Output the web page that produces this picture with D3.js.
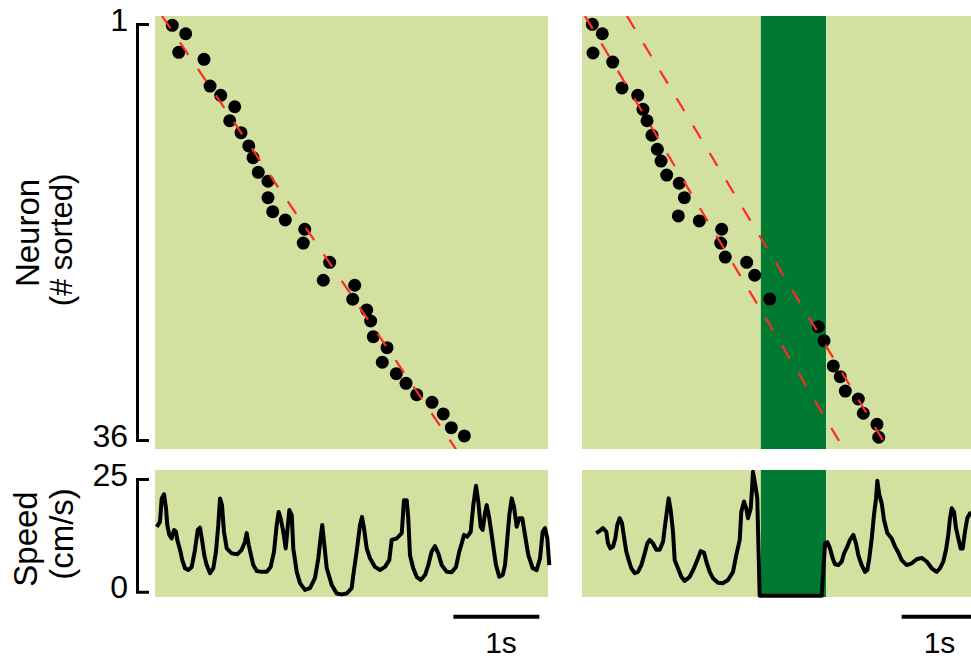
<!DOCTYPE html>
<html><head><meta charset="utf-8">
<script src="https://cdn.jsdelivr.net/npm/d3@7"></script>
<style>body{margin:0;background:#fff}svg{display:block}text{font-family:"Liberation Sans",Arial,sans-serif;fill:#000}</style>
</head><body><svg id="c" width="971" height="660"></svg>
<script>
// ---------- data ----------
const neuronTicks = [1, 36];
const speedTicks = [0, 25];
// peak times (s) and sorted neuron rank, left (control) panel
const leftTimes = [0.201,0.357,0.276,0.570,0.640,0.764,0.927,0.869,1.000,1.090,1.140,1.201,1.314,1.314,1.369,1.515,1.741,1.724,2.031,1.957,2.322,2.299,2.462,2.508,2.538,2.698,2.643,2.806,2.919,3.043,3.221,3.352,3.445,3.597];
const leftNeurons = [1.11,1.82,3.38,3.97,6.22,7.00,7.96,9.14,10.14,11.26,12.25,13.48,14.23,15.61,16.79,17.49,18.27,19.43,21.05,22.56,22.98,24.16,25.06,25.99,27.31,28.23,29.46,30.42,31.23,32.19,32.83,33.81,34.96,35.66];
// right (light-on) panel
const rightTimes = [0.120,0.236,0.128,0.357,0.465,0.648,0.709,0.756,0.814,0.876,0.919,0.985,1.131,1.190,1.120,1.364,1.624,1.613,1.666,1.915,2.008,2.183,2.748,2.814,2.922,3.003,3.062,3.213,3.271,3.430,3.450];
const rightNeurons = [1.03,1.82,3.44,4.20,6.38,7.00,8.18,9.14,10.36,11.54,12.53,13.71,14.40,15.61,17.15,17.57,18.27,19.43,20.61,21.05,22.14,24.14,26.47,27.64,29.77,30.67,31.88,32.55,33.75,34.68,35.77];
// fitted sequence lines [t0, t1] / [n0, n1]
const leftFitT = [0.081, 3.500];
const leftFitN = [0.327, 36.78];
const rightFitAT = [0.035, 3.047];
const rightFitAN = [0.327, 36.78];
const rightFitBT = [0.523, 3.562];
const rightFitBN = [0.327, 36.78];
// light stimulation window (s)
const stimT = [2.08, 2.837];
// running speed (cm/s)
const leftSpeedT = [0.020,0.058,0.078,0.105,0.128,0.143,0.166,0.194,0.221,0.244,0.259,0.291,0.317,0.349,0.387,0.427,0.465,0.497,0.523,0.550,0.573,0.601,0.640,0.678,0.709,0.736,0.756,0.779,0.802,0.834,0.892,0.957,1.008,1.047,1.066,1.090,1.116,1.143,1.183,1.241,1.299,1.345,1.384,1.415,1.438,1.465,1.492,1.520,1.538,1.562,1.590,1.608,1.648,1.686,1.744,1.802,1.860,1.899,1.927,1.945,1.965,1.997,2.055,2.113,2.171,2.229,2.287,2.306,2.345,2.384,2.407,2.430,2.462,2.500,2.558,2.616,2.674,2.724,2.752,2.810,2.869,2.895,2.927,2.945,2.965,3.003,3.043,3.090,3.140,3.178,3.217,3.256,3.294,3.334,3.392,3.450,3.500,3.538,3.566,3.593,3.631,3.671,3.701,3.733,3.759,3.787,3.810,3.837,3.857,3.887,3.915,3.942,3.965,4.003,4.043,4.070,4.097,4.120,4.148,4.174,4.206,4.236,4.271,4.302,4.341,4.392,4.438,4.477,4.508,4.535,4.562,4.585];
const leftSpeedV = [14.4,15.5,20.7,21.6,18.5,14.8,12.6,11.8,13.7,13.3,11.5,9.3,7.0,5.2,4.8,5.5,9.3,13.7,14.2,11.1,8.1,5.9,4.1,5.2,8.9,14.8,20.7,19.2,13.3,9.6,8.5,8.3,9.3,11.1,13.0,10.4,8.1,5.9,4.6,4.4,4.4,5.5,8.9,14.8,17.7,15.9,13.3,9.6,13.3,18.1,17.0,9.6,4.4,1.9,0.4,0.8,3.0,7.4,12.2,14.8,11.1,5.2,1.5,-0.4,-0.6,-0.4,0.8,3.7,8.9,14.8,16.6,14.1,9.6,7.4,5.5,4.8,5.5,7.0,11.5,11.8,13.0,20.3,20.3,16.3,8.1,5.2,3.3,2.6,3.7,5.9,8.9,10.1,8.5,5.9,4.4,4.3,5.5,8.9,10.7,12.6,12.2,13.3,19.2,23.5,20.0,14.4,13.7,17.4,19.2,16.3,12.6,8.9,5.9,3.3,3.7,5.9,11.8,17.0,20.7,18.9,14.4,16.3,16.3,12.6,8.1,5.2,4.8,7.4,13.3,14.1,11.8,5.9];
const rightSpeedT = [0.166,0.206,0.244,0.283,0.302,0.329,0.360,0.387,0.410,0.438,0.465,0.488,0.515,0.543,0.573,0.613,0.651,0.690,0.729,0.759,0.787,0.826,0.864,0.903,0.942,0.969,0.992,1.008,1.031,1.058,1.078,1.116,1.155,1.194,1.252,1.302,1.349,1.380,1.419,1.445,1.485,1.523,1.581,1.640,1.698,1.756,1.794,1.834,1.852,1.884,1.910,1.930,1.962,1.980,1.988,2.015,2.038,2.066,2.787,2.826,2.852,2.884,2.915,2.942,2.980,3.020,3.047,3.085,3.116,3.155,3.186,3.213,3.252,3.291,3.317,3.341,3.369,3.395,3.419,3.434,3.457,3.485,3.512,3.550,3.601,3.640,3.678,3.717,3.776,3.834,3.892,3.950,4.008,4.066,4.124,4.163,4.201,4.233,4.259,4.279,4.299,4.326,4.349,4.376,4.403,4.427,4.453,4.480,4.512,4.531];
const rightSpeedV = [13.0,13.5,14.1,13.3,10.7,9.6,10.0,11.8,14.8,16.3,15.2,12.2,8.9,7.0,5.2,4.1,4.4,5.9,8.5,10.7,11.5,10.7,9.3,9.3,11.1,15.2,18.5,20.7,18.1,13.3,7.0,5.2,3.3,2.4,3.3,5.2,7.4,9.0,8.7,6.7,4.4,3.0,2.0,1.9,2.6,4.4,8.1,11.5,17.7,20.0,18.5,16.3,18.5,23.7,26.6,23.7,20.7,-0.9,-0.9,10.7,11.0,9.6,7.4,6.1,5.9,6.7,8.5,10.0,11.5,12.6,10.7,8.1,5.9,4.4,4.8,7.4,11.8,17.0,20.7,24.6,21.5,19.6,15.9,13.0,11.8,10.0,8.7,7.0,5.9,6.3,7.2,7.5,6.7,5.2,4.4,5.2,6.7,9.3,12.6,16.3,18.5,17.7,14.1,11.8,9.6,9.6,13.3,16.3,17.4,17.0];
const scaleBarT = [3.469, 3.717];   // start of 1-s bar in each panel
const scaleLabelT = [4.023, 4.157];
const scaleLabel = "1s";

// ---------- layout ----------
const svg = d3.select("#c");
const panels = [
  {x0:155, times:leftTimes, neurons:leftNeurons, fits:[[leftFitT,leftFitN]], sT:leftSpeedT, sV:leftSpeedV, stim:null, bar:scaleBarT[0], lab:scaleLabelT[0]},
  {x0:582, times:rightTimes, neurons:rightNeurons, fits:[[rightFitAT,rightFitAN],[rightFitBT,rightFitBN]], sT:rightSpeedT, sV:rightSpeedV, stim:stimT, bar:scaleBarT[1], lab:scaleLabelT[1]}
];
const pxPerSec = 86, panelW = 393;
const topY0 = 16, topY1 = 449, botY0 = 470, botY1 = 597;
const yN = d3.scaleLinear().domain([1,36]).range([24,440]);
const yS = d3.scaleLinear().domain([0,25]).range([591.7,479]);
const light = "#d2e0a0", dark = "#007a33";

const defs = svg.append("defs");
panels.forEach((p,i)=>{
  const x = d3.scaleLinear().domain([0, panelW/pxPerSec]).range([p.x0, p.x0+panelW]);
  defs.append("clipPath").attr("id","clipT"+i).append("rect")
    .attr("x",p.x0).attr("y",topY0).attr("width",panelW).attr("height",topY1-topY0);
  svg.append("rect").attr("x",p.x0).attr("y",topY0).attr("width",panelW).attr("height",topY1-topY0).attr("fill",light);
  svg.append("rect").attr("x",p.x0).attr("y",botY0).attr("width",panelW).attr("height",botY1-botY0).attr("fill",light);
  if(p.stim){
    svg.append("rect").attr("x",x(p.stim[0])).attr("y",topY0).attr("width",x(p.stim[1])-x(p.stim[0])).attr("height",topY1-topY0).attr("fill",dark);
    svg.append("rect").attr("x",x(p.stim[0])).attr("y",botY0).attr("width",x(p.stim[1])-x(p.stim[0])).attr("height",botY1-botY0).attr("fill",dark);
  }
  svg.append("g").selectAll("circle").data(p.times).join("circle")
    .attr("cx",d=>x(d)).attr("cy",(d,j)=>yN(p.neurons[j])).attr("r",6.5).attr("fill","#000");
  const lg = svg.append("g").attr("clip-path","url(#clipT"+i+")");
  p.fits.forEach(f=>{
    lg.append("line").attr("x1",x(f[0][0])).attr("y1",yN(f[1][0])).attr("x2",x(f[0][1])).attr("y2",yN(f[1][1]))
      .attr("stroke","#ff2a2a").attr("stroke-width",2.2).attr("stroke-dasharray","15,17");
  });
  const line = d3.line().x(d=>x(d[0])).y(d=>yS(d[1]));
  svg.append("path").datum(p.sT.map((t,j)=>[t,p.sV[j]])).attr("d",line)
    .attr("fill","none").attr("stroke","#000").attr("stroke-width",4).attr("stroke-linejoin","round");
  svg.append("line").attr("x1",x(p.bar)).attr("x2",x(p.bar+1)).attr("y1",616.7).attr("y2",616.7)
    .attr("stroke","#000").attr("stroke-width",4);
  svg.append("text").attr("x",x(p.lab)).attr("y",653).attr("text-anchor","middle").attr("font-size",30).text(scaleLabel);
});

function bracket(scale, ticks){
  const ax = d3.axisLeft(scale).tickValues(ticks).tickSize(-12).tickSizeOuter(-12).tickPadding(9);
  const g = svg.append("g").attr("transform","translate(137,0)").call(ax);
  g.select(".domain").attr("stroke","#000").attr("stroke-width",3).attr("fill","none");
  g.selectAll(".tick line").remove();
  g.selectAll("text").attr("font-size",32).attr("font-family","'Liberation Sans',Arial,sans-serif").attr("dy",null).attr("y",6);
  return g;
}
bracket(yN, neuronTicks);
bracket(yS, speedTicks);

function vlabel(txt, x, y, fs){
  svg.append("text").attr("transform",`translate(${x},${y}) rotate(-90)`).attr("text-anchor","middle")
    .attr("font-size",fs).text(txt);
}
vlabel("Neuron", 39, 233, 33);
vlabel("(# sorted)", 72, 240, 31);
vlabel("Speed", 37, 539, 33);
vlabel("(cm/s)", 73, 534, 33);
</script></body></html>
